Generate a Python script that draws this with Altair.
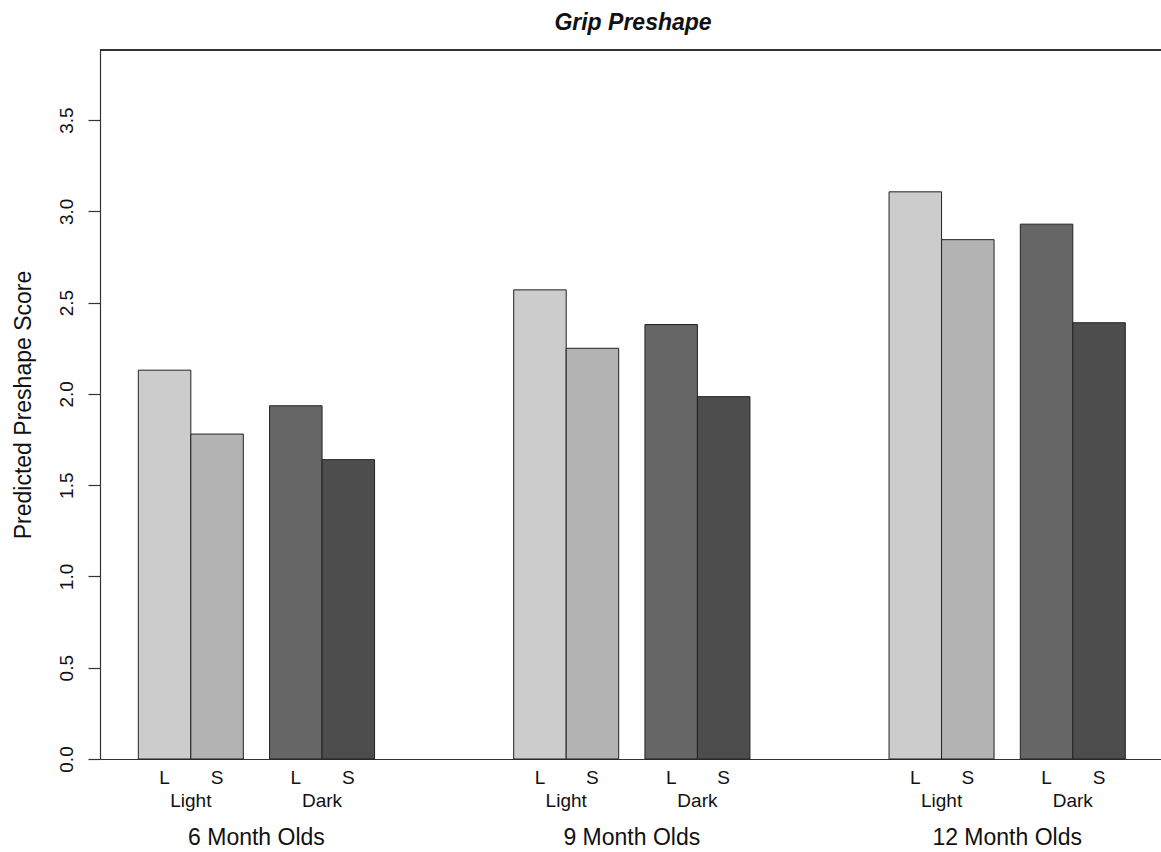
import altair as alt
import pandas as pd

# Predicted preshape scores by age group, lighting condition and object size
groups = ["6 Month Olds", "9 Month Olds", "12 Month Olds"]
conditions = ["Light", "Dark"]
sizes = ["L", "S"]
light_L = [2.13, 2.57, 3.107]
light_S = [1.78, 2.25, 2.845]
dark_L = [1.935, 2.38, 2.93]
dark_S = [1.64, 1.985, 2.39]

fills = ["#cccccc", "#b3b3b3", "#666666", "#4d4d4d"]
Y_MAX = 3.884

# Bar layout in bar-width units (R barplot style spacing)
LEFT_PAD = 0.73
PAIR_GAP = 0.5
GROUP_GAP = 2.65
X_MAX = 20.21

W, H = 1061, 709
FONT = "Liberation Sans"

series = {("Light", "L"): light_L, ("Light", "S"): light_S,
          ("Dark", "L"): dark_L, ("Dark", "S"): dark_S}

rows = []
for g, grp in enumerate(groups):
    for c, cond in enumerate(conditions):
        for s, size in enumerate(sizes):
            x0 = LEFT_PAD + g * (4 + PAIR_GAP + GROUP_GAP) + c * (2 + PAIR_GAP) + s
            rows.append({"group": grp, "cond": cond, "size": size,
                         "key": f"{cond} {size}",
                         "score": series[(cond, size)][g],
                         "x0": x0, "x1": x0 + 1, "xc": x0 + 0.5,
                         "xpair": LEFT_PAD + g * (4 + PAIR_GAP + GROUP_GAP) + c * (2 + PAIR_GAP) + 1,
                         "xgroup": LEFT_PAD + g * (4 + PAIR_GAP + GROUP_GAP) + (4 + PAIR_GAP) / 2})
df = pd.DataFrame(rows)
pairs = df.drop_duplicates(["group", "cond"])
grp_df = df.drop_duplicates(["group"])

xs = alt.Scale(domain=[0, X_MAX], nice=False, zero=False)
ys = alt.Scale(domain=[0, Y_MAX], nice=False, zero=True)

bars = alt.Chart(df).mark_rect(stroke="#222222", strokeWidth=1).encode(
    x=alt.X("x0:Q", scale=xs,
            axis=alt.Axis(title=None, labels=False, ticks=False, grid=False,
                          domain=True, domainColor="#333333", domainWidth=1.2)),
    x2="x1:Q",
    y=alt.Y("score:Q", scale=ys,
            axis=alt.Axis(values=[0, 0.5, 1.0, 1.5, 2.0, 2.5, 3.0, 3.5], format=".1f",
                          grid=False, domainColor="#333333", domainWidth=1.2,
                          tickColor="#333333", tickSize=12, tickWidth=1.2,
                          labelAngle=270, labelAlign="center", labelBaseline="alphabetic",
                          labelPadding=16, labelFontSize=19, labelFont=FONT,
                          labelColor="#111111",
                          title="Predicted Preshape Score", titleFont=FONT,
                          titleFontSize=23, titleFontWeight="normal", titleColor="#111111",
                          titleAngle=270, titleAlign="center", titleBaseline="alphabetic",
                          titleX=-70, titleY=H / 2)),
    y2=alt.datum(0),
    color=alt.Color("key:N", scale=alt.Scale(
        domain=["Light L", "Light S", "Dark L", "Dark S"], range=fills), legend=None),
)

top_line = alt.Chart(df).mark_rule(color="#333333", strokeWidth=1.2).encode(
    y=alt.value(0))

size_labels = alt.Chart(df).mark_text(
    font=FONT, fontSize=19, baseline="alphabetic", align="center", color="#111111"
).encode(x=alt.X("xc:Q", scale=xs), y=alt.value(734), text="size:N")

cond_labels = alt.Chart(pairs).mark_text(
    font=FONT, fontSize=19, baseline="alphabetic", align="center", color="#111111"
).encode(x=alt.X("xpair:Q", scale=xs), y=alt.value(757), text="cond:N")

group_labels = alt.Chart(grp_df).mark_text(
    font=FONT, fontSize=23, baseline="alphabetic", align="center", color="#111111"
).encode(x=alt.X("xgroup:Q", scale=xs), y=alt.value(795), text="group:N")

title = alt.Chart(grp_df.head(1)).mark_text(
    font=FONT, fontSize=23, fontWeight="bold", fontStyle="italic",
    baseline="alphabetic", align="center", color="#111111"
).encode(x=alt.value(533), y=alt.value(-20), text=alt.value("Grip Preshape"))

chart = alt.layer(bars, top_line, size_labels, cond_labels, group_labels, title).properties(
    width=W, height=H,
    autosize=alt.AutoSizeParams(type="none"),
    padding={"left": 100, "top": 50, "right": 0, "bottom": 93},
).configure_view(stroke=None).configure(background="white")

chart.save("out.html", embed_options={"renderer": "svg", "actions": False})
